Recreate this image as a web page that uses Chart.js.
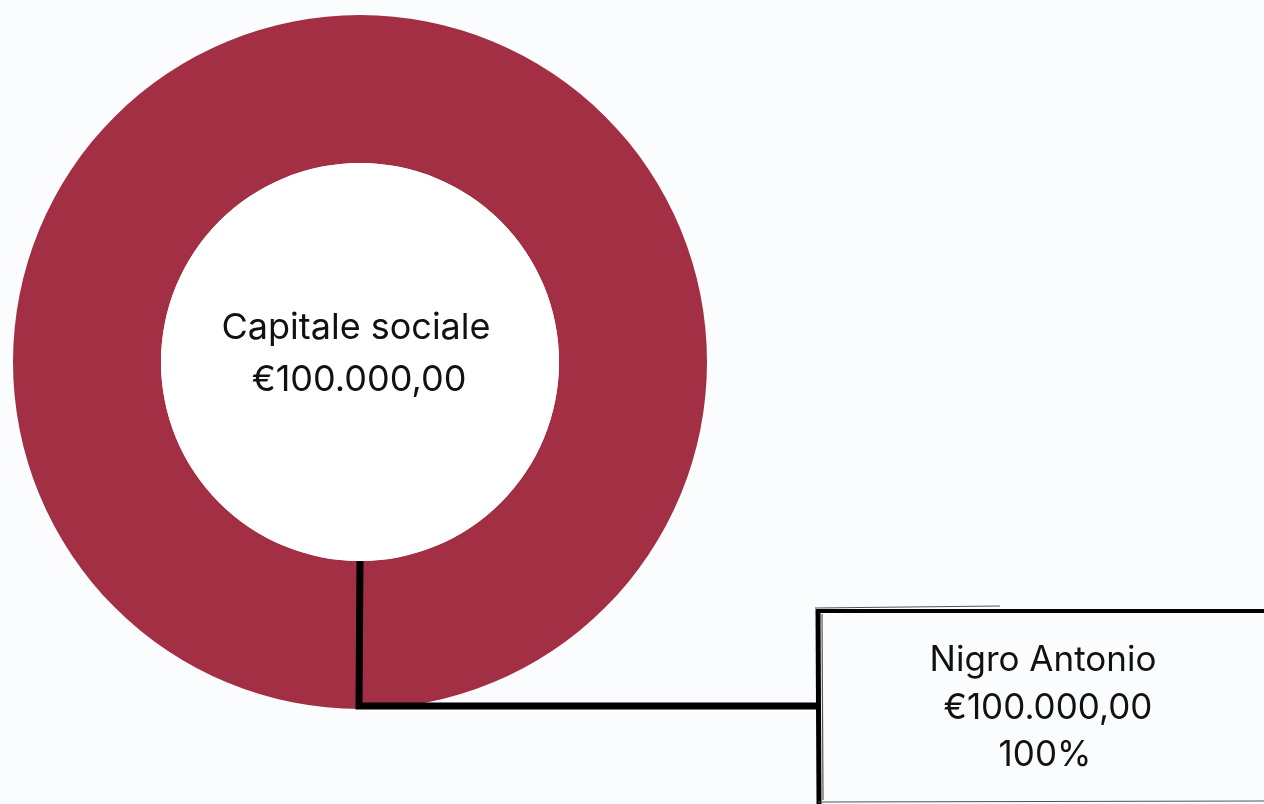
<!DOCTYPE html>
<html>
<head>
<meta charset="utf-8">
<script src="https://cdn.jsdelivr.net/npm/chart.js@4.4.1/dist/chart.umd.min.js"></script>
<style>
  html, body { margin: 0; padding: 0; background: #fafcfe; }
  #wrap { width: 1264px; height: 804px; position: relative; }
</style>
</head>
<body>
<div id="wrap"><canvas id="chart"></canvas></div>
<script>
const SHAREHOLDERS = ["Nigro Antonio"];
const SHARE_VALUES = [100000];
const SHARE_COLORS = ["#a32f44"];
const CENTER_TITLE = "Capitale sociale";

const FONT = "Inter, 'Liberation Sans', Arial, sans-serif";

function euro(v) {
  const parts = v.toFixed(2).split(".");
  const intPart = parts[0].replace(/\B(?=(\d{3})+(?!\d))/g, ".");
  return "€" + intPart + "," + parts[1];
}

const total = SHARE_VALUES.reduce((a, b) => a + b, 0);

const overlay = {
  id: "overlay",
  afterDatasetsDraw(chart) {
    const ctx = chart.ctx;
    const arc = chart.getDatasetMeta(0).data[0];
    const cx = arc.x, cy = arc.y;
    const inner = arc.innerRadius, outer = arc.outerRadius;

    // white hole
    ctx.save();
    ctx.fillStyle = "#ffffff";
    ctx.beginPath();
    ctx.arc(cx, cy, inner, 0, Math.PI * 2);
    ctx.fill();

    // center text
    ctx.fillStyle = "#111111";
    ctx.font = "36px " + FONT;
    ctx.textAlign = "center";
    ctx.textBaseline = "alphabetic";
    ctx.fillText(CENTER_TITLE, cx - 4, cy - 23);
    ctx.fillText(euro(total), cx - 1, cy + 29);

    // leader line
    const boxX = 818, boxY = 611, boxB = 802;
    ctx.strokeStyle = "#000";
    ctx.lineWidth = 7;
    ctx.lineJoin = "miter";
    ctx.beginPath();
    ctx.moveTo(cx, cy + inner);
    ctx.lineTo(cx - 1, cy + outer - 3);
    ctx.lineTo(boxX + 5, cy + outer - 3);
    ctx.stroke();

    // box (sketchy border)
    ctx.fillStyle = "#fafcfe";
    ctx.fillRect(boxX, boxY, 1264 - boxX, boxB - boxY);
    ctx.lineWidth = 4;
    ctx.beginPath();
    ctx.moveTo(boxX - 2, boxY);
    ctx.lineTo(1264, boxY);
    ctx.stroke();
    ctx.lineWidth = 5;
    ctx.beginPath();
    ctx.moveTo(boxX, boxY - 2);
    ctx.lineTo(boxX + 1, boxB + 2);
    ctx.stroke();
    ctx.lineWidth = 1.2;
    ctx.strokeStyle = "#555";
    ctx.beginPath();
    ctx.moveTo(boxX - 3, boxY - 3);
    ctx.lineTo(1000, boxY - 5);
    ctx.moveTo(boxX + 4, boxY + 3);
    ctx.lineTo(boxX + 5, boxB - 2);
    ctx.moveTo(boxX, boxB);
    ctx.lineTo(1264, boxB - 1);
    ctx.stroke();

    // box text
    ctx.fillStyle = "#111111";
    ctx.font = "35px " + FONT;
    ctx.textAlign = "center";
    ctx.fillText(SHAREHOLDERS[0], 1043, 671);
    ctx.fillText(" " + euro(SHARE_VALUES[0]), 1043, 719);
    ctx.fillText(Math.round(SHARE_VALUES[0] / total * 100) + "%", 1045, 766);
    ctx.restore();
  }
};

new Chart(document.getElementById("chart"), {
  type: "doughnut",
  data: {
    labels: SHAREHOLDERS,
    datasets: [{
      data: SHARE_VALUES,
      backgroundColor: SHARE_COLORS,
      borderWidth: 0,
    }],
  },
  options: {
    responsive: true,
    maintainAspectRatio: false,
    animation: false,
    cutout: 199,
    layout: { padding: { left: 13, top: 15, right: 557, bottom: 95 } },
    plugins: {
      legend: { display: false },
      tooltip: { enabled: false },
    },
  },
  plugins: [overlay],
});
</script>
</body>
</html>
